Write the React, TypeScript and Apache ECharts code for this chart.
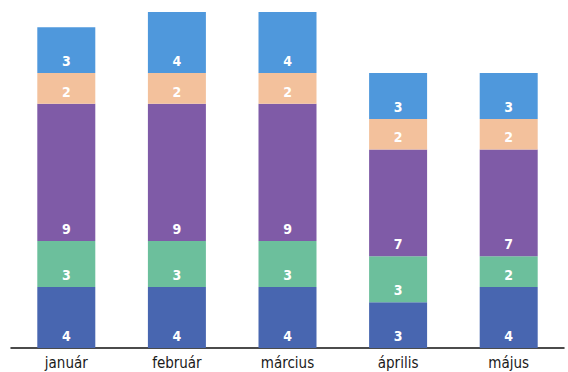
import React, { useEffect, useRef } from "react";
import * as echarts from "echarts";

const categories = ["január", "február", "március", "április", "május"];
const darkBlue = [4, 4, 4, 3, 4];
const green = [3, 3, 3, 3, 2];
const purple = [9, 9, 9, 7, 7];
const peach = [2, 2, 2, 2, 2];
const lightBlue = [3, 4, 4, 3, 3];

const seriesData = [
  { name: "s1", data: darkBlue, color: "#4866b0" },
  { name: "s2", data: green, color: "#6cbf9c" },
  { name: "s3", data: purple, color: "#7f5ba7" },
  { name: "s4", data: peach, color: "#f3c19c" },
  { name: "s5", data: lightBlue, color: "#4f98dc" },
];

export default function App() {
  const ref = useRef<HTMLDivElement>(null);
  useEffect(() => {
    if (!ref.current) return;
    const chart = echarts.init(ref.current, undefined, { renderer: "svg" });
    chart.setOption({
      animation: false,
      grid: { left: 11, right: 4, top: 12, bottom: 24 },
      xAxis: {
        type: "category",
        data: categories,
        axisLine: { lineStyle: { color: "#111", width: 1.5 } },
        axisTick: { show: false },
        axisLabel: {
          color: "#1a1a1a",
          fontSize: 15,
          fontFamily: "DejaVu Sans Condensed",
          margin: 7,
        },
      },
      yAxis: {
        type: "value",
        min: 0,
        max: 22,
        show: false,
        splitLine: { show: false },
      },
      series: seriesData.map((s) => ({
        name: s.name,
        type: "bar",
        stack: "total",
        data: s.data,
        barWidth: 58,
        itemStyle: { color: s.color },
        label: {
          show: true,
          position: "insideBottom",
          distance: 5,
          color: "#ffffff",
          fontSize: 14,
          fontWeight: "bold",
          fontFamily: "DejaVu Sans Condensed",
        },
      })),
    });
    return () => chart.dispose();
  }, []);
  return <div ref={ref} style={{ width: 568, height: 372, position: "absolute", left: 0, top: 0 }} />;
}
